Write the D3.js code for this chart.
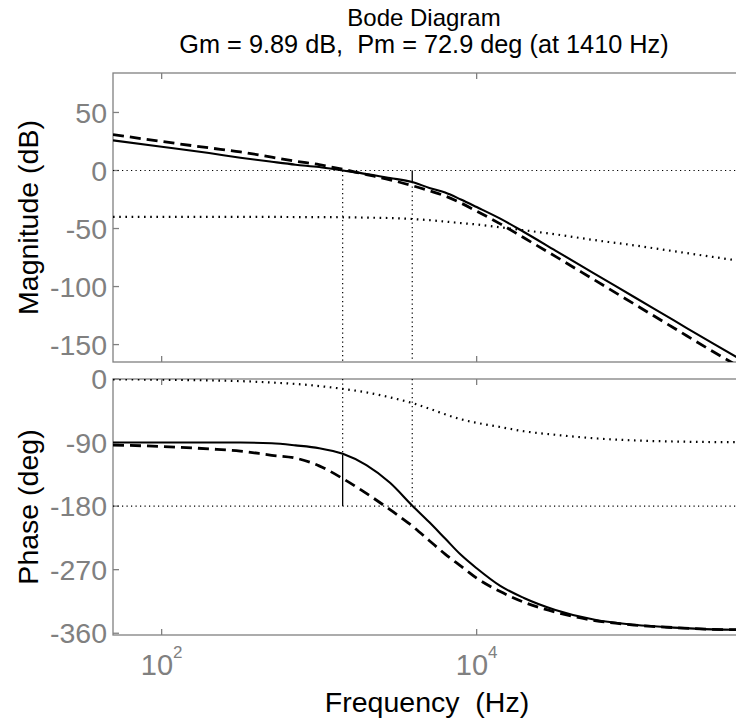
<!DOCTYPE html>
<html>
<head>
<meta charset="utf-8">
<script src="https://cdn.jsdelivr.net/npm/d3@7"></script>
<style>
  body { margin: 0; background: #fff; }
  svg { display: block; font-family: Arial, "Liberation Sans", sans-serif; }
</style>
</head>
<body>
<div id="bode"></div>
<script>
const freq = [49.1, 100, 200, 316, 500, 708, 1000, 1413, 1995, 2818, 3890, 5012, 6310, 7943,
              10000, 14125, 19953, 31623, 56234, 100000, 177828, 316228, 449800];

// magnitude (dB)
const magSolid  = [26, 20.5, 15, 11, 7.5, 5, 3, 0, -3, -6.5, -9.9, -15, -19, -25,
                   -31.5, -41.5, -53, -69, -89, -109, -129, -149, -161];
const magDashed = [31, 25, 19.5, 16, 11.5, 8, 5, 1, -3.5, -8, -13, -17.5, -22, -28,
                   -35, -46, -58, -74, -94.5, -115, -135.5, -156, -168];
const magDotted = [-40, -40, -40, -40, -40, -40.1, -40.2, -40.3, -40.6, -41, -41.8, -42.8, -44, -45.3,
                   -46.5, -49, -51.5, -55, -60, -64.5, -69.5, -74.5, -77.5];

// phase (deg)
const phSolid  = [-90, -90, -90, -90, -91, -94, -98, -106, -122, -147, -179, -203, -226, -249,
                  -268, -293, -310, -327, -341, -348, -352, -354.5, -355];
const phDashed = [-93.5, -95.5, -99, -102, -108, -112, -123, -141, -162, -185, -208, -229, -248, -265,
                  -282, -301, -316, -330, -342, -348.5, -352, -354.5, -355];
const phDotted = [-0.5, -1, -2, -3, -5, -7, -10, -14, -19, -26, -34, -42, -50, -57,
                  -62, -68, -74, -79, -84, -87, -88.5, -89.3, -89.5];

const magTicks = [50, 0, -50, -100, -150];
const phTicks = [0, -90, -180, -270, -360];
const freqTicks = [100, 10000];

// stability margins
const gm = 9.89, pm = 72.9, wcg = 1410, wcp = 3900;

const titleLines = ["Bode Diagram", "Gm = 9.89 dB,\u00a0 Pm = 72.9 deg (at 1410 Hz)"];
const xLabel = "Frequency\u00a0 (Hz)";
const magLabel = "Magnitude (dB)", phLabel = "Phase (deg)";

const width = 736, height = 719;
const left = 113, right = 737;
const magBox = { top: 73, bottom: 362 };
const phBox = { top: 379, bottom: 635 };
const axisGray = "#808080";

const svg = d3.select("#bode").append("svg")
    .attr("width", width).attr("height", height)
    .attr("viewBox", [0, 0, width, height]);

svg.append("rect").attr("width", width).attr("height", height).attr("fill", "#fff");

const x = d3.scaleLog().domain([49.1, 449800]).range([left, right]);
const yMag = d3.scaleLinear().domain([-165, 84]).range([magBox.bottom, magBox.top]);
const yPh = d3.scaleLinear().domain([-362.5, 0]).range([phBox.bottom, phBox.top]);

const defs = svg.append("defs");
[["clipMag", magBox], ["clipPh", phBox]].forEach(([id, b]) => {
  defs.append("clipPath").attr("id", id)
    .append("rect").attr("x", left).attr("y", b.top)
    .attr("width", right - left).attr("height", b.bottom - b.top);
});

// title
svg.selectAll(".title").data(titleLines).join("text")
    .attr("class", "title")
    .attr("x", (left + right) / 2 - 1)
    .attr("y", (d, i) => 26 + i * 27)
    .attr("text-anchor", "middle")
    .attr("font-size", (d, i) => i ? 25.3 : 24)
    .attr("fill", "#000")
    .text(d => d);

function drawAxes(y, box, ticks, label, clipId) {
  const g = svg.append("g");

  // box frame
  g.append("rect")
    .attr("x", left).attr("y", box.top)
    .attr("width", right - left).attr("height", box.bottom - box.top)
    .attr("fill", "none").attr("stroke", axisGray).attr("stroke-width", 1.3);

  // y ticks (inside) + labels
  g.selectAll(".yt").data(ticks).join("line")
    .attr("x1", left).attr("x2", left + 6)
    .attr("y1", d => y(d)).attr("y2", d => y(d))
    .attr("stroke", axisGray).attr("stroke-width", 1.3);
  g.selectAll(".yl").data(ticks).join("text")
    .attr("x", left - 6).attr("y", d => y(d))
    .attr("dy", "0.36em")
    .attr("text-anchor", "end")
    .attr("font-size", 28.5)
    .attr("fill", axisGray)
    .text(d => d);

  // x ticks on top and bottom edges
  freqTicks.forEach(f => {
    g.append("line").attr("x1", x(f)).attr("x2", x(f))
      .attr("y1", box.top).attr("y2", box.top + 6)
      .attr("stroke", axisGray).attr("stroke-width", 1.3);
    g.append("line").attr("x1", x(f)).attr("x2", x(f))
      .attr("y1", box.bottom).attr("y2", box.bottom - 6)
      .attr("stroke", axisGray).attr("stroke-width", 1.3);
  });

  // y label
  g.append("text")
    .attr("transform", `translate(38, ${(box.top + box.bottom) / 2}) rotate(-90)`)
    .attr("text-anchor", "middle")
    .attr("font-size", 28.5)
    .attr("fill", "#000")
    .text(label);

  return g.append("g").attr("clip-path", `url(#${clipId})`);
}

const magPlot = drawAxes(yMag, magBox, magTicks, magLabel, "clipMag");
const phPlot = drawAxes(yPh, phBox, phTicks, phLabel, "clipPh");

function dotted(g, x1, y1, x2, y2) {
  g.append("line").attr("x1", x1).attr("y1", y1).attr("x2", x2).attr("y2", y2)
    .attr("stroke", "#000").attr("stroke-width", 1.2).attr("stroke-dasharray", "1.2,3.3");
}
function solid(g, x1, y1, x2, y2) {
  g.append("line").attr("x1", x1).attr("y1", y1).attr("x2", x2).attr("y2", y2)
    .attr("stroke", "#000").attr("stroke-width", 1.3);
}

// margin markers, magnitude
dotted(magPlot, left, yMag(0), right, yMag(0));
dotted(magPlot, x(wcg), yMag(0), x(wcg), magBox.bottom);
solid(magPlot, x(wcp), yMag(0), x(wcp), yMag(-gm));
dotted(magPlot, x(wcp), yMag(-gm), x(wcp), magBox.bottom);

// margin markers, phase
dotted(phPlot, left, yPh(-180), right, yPh(-180));
dotted(phPlot, x(wcg), phBox.top, x(wcg), yPh(-180 + pm));
solid(phPlot, x(wcg), yPh(-180 + pm), x(wcg), yPh(-180));
dotted(phPlot, x(wcp), phBox.top, x(wcp), yPh(-180));

const styles = {
  solid:  { w: 2.1, dash: null },
  dashed: { w: 2.8, dash: "11,6" },
  dotted: { w: 2.2, dash: "1.6,4.6" }
};

function curve(g, y, vals, st) {
  const line = d3.line()
    .x((d, i) => x(freq[i]))
    .y(d => y(d))
    .curve(d3.curveMonotoneX);
  g.append("path")
    .datum(vals)
    .attr("d", line)
    .attr("fill", "none")
    .attr("stroke", "#000")
    .attr("stroke-width", st.w)
    .attr("stroke-dasharray", st.dash);
}

curve(magPlot, yMag, magDotted, styles.dotted);
curve(magPlot, yMag, magDashed, styles.dashed);
curve(magPlot, yMag, magSolid, styles.solid);

curve(phPlot, yPh, phDotted, styles.dotted);
curve(phPlot, yPh, phDashed, styles.dashed);
curve(phPlot, yPh, phSolid, styles.solid);

// x tick labels 10^n
const xl = svg.selectAll(".xl").data(freqTicks).join("text")
    .attr("x", d => x(d))
    .attr("y", 675)
    .attr("text-anchor", "middle")
    .attr("fill", axisGray);
xl.append("tspan").attr("font-size", 29).text("10");
xl.append("tspan").attr("font-size", 17).attr("dy", -17)
    .text(d => Math.round(Math.log10(d)));

svg.append("text")
    .attr("x", (left + right) / 2 + 2)
    .attr("y", 712)
    .attr("text-anchor", "middle")
    .attr("font-size", 28.5)
    .attr("fill", "#000")
    .text(xLabel);
</script>
</body>
</html>
